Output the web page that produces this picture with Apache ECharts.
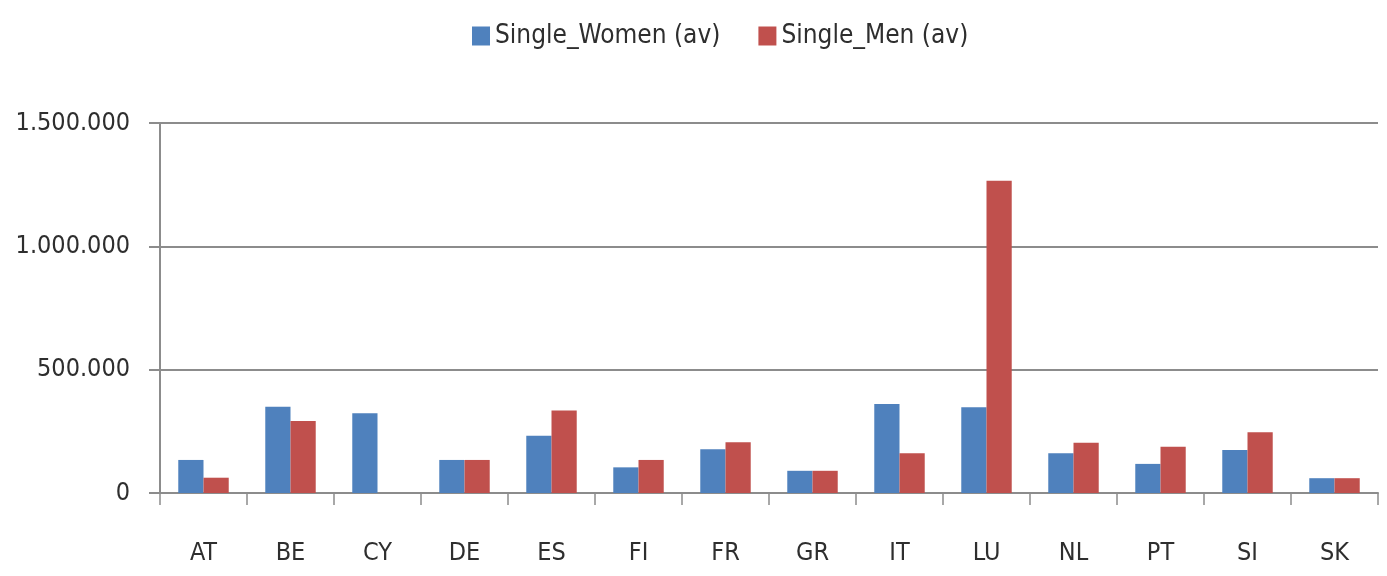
<!DOCTYPE html>
<html>
<head>
<meta charset="utf-8">
<script src="https://cdn.jsdelivr.net/npm/echarts@6/dist/echarts.min.js"></script>
<style>
  html, body { margin: 0; padding: 0; background: #fff; }
  #chart { width: 1387px; height: 576px; }
</style>
</head>
<body>
<div id="chart"></div>
<script>
const countries = ["AT", "BE", "CY", "DE", "ES", "FI", "FR", "GR", "IT", "LU", "NL", "PT", "SI", "SK"];
const singleWomen = [134000, 350000, 323000, 134000, 232000, 104000, 177000, 90000, 361000, 348000, 161000, 118000, 174000, 60000];
const singleMen = [62000, 292000, 0, 134000, 334000, 134000, 206000, 90000, 161000, 1266000, 204000, 188000, 246000, 60000];
const yTicks = { min: 0, max: 1500000, interval: 500000 };

const FONT = "'Liberation Sans Narrow', 'DejaVu Sans Condensed', sans-serif";
const TEXT = "#2e2e2e";
const GRID = "#8c8c8c";

const chart = echarts.init(document.getElementById("chart"));

// 1500000 -> "1.500.000"
const fmt = (v) => String(v).replace(/\B(?=(\d{3})+(?!\d))/g, ".");

chart.setOption({
  animation: false,
  legend: {
    top: 18,
    left: 467,
    itemWidth: 18,
    itemHeight: 19,
    itemGap: 38,
    icon: "rect",
    textStyle: { fontFamily: FONT, fontSize: 26, color: TEXT },
    data: ["Single_Women (av)", "Single_Men (av)"]
  },
  grid: { left: 160, right: 9, top: 123, bottom: 83, containLabel: false },
  xAxis: {
    type: "category",
    data: countries,
    axisLine: { lineStyle: { color: GRID, width: 2 } },
    axisTick: { show: true, length: 12, lineStyle: { color: GRID, width: 1.5 } },
    axisLabel: { margin: 48, fontFamily: FONT, fontSize: 25, color: TEXT }
  },
  yAxis: {
    type: "value",
    min: yTicks.min,
    max: yTicks.max,
    interval: yTicks.interval,
    axisLine: { show: true, lineStyle: { color: GRID, width: 2 } },
    axisTick: { show: true, length: 11, lineStyle: { color: GRID, width: 2 } },
    axisLabel: { margin: 30, fontFamily: FONT, fontSize: 25, color: TEXT, formatter: fmt },
    splitLine: { lineStyle: { color: GRID, width: 2 } }
  },
  series: [
    {
      name: "Single_Women (av)",
      type: "bar",
      data: singleWomen,
      barGap: "0%",
      barCategoryGap: "42%",
      itemStyle: { color: "#4f81bd" }
    },
    {
      name: "Single_Men (av)",
      type: "bar",
      data: singleMen,
      itemStyle: { color: "#c0504d" }
    }
  ]
});
</script>
</body>
</html>
